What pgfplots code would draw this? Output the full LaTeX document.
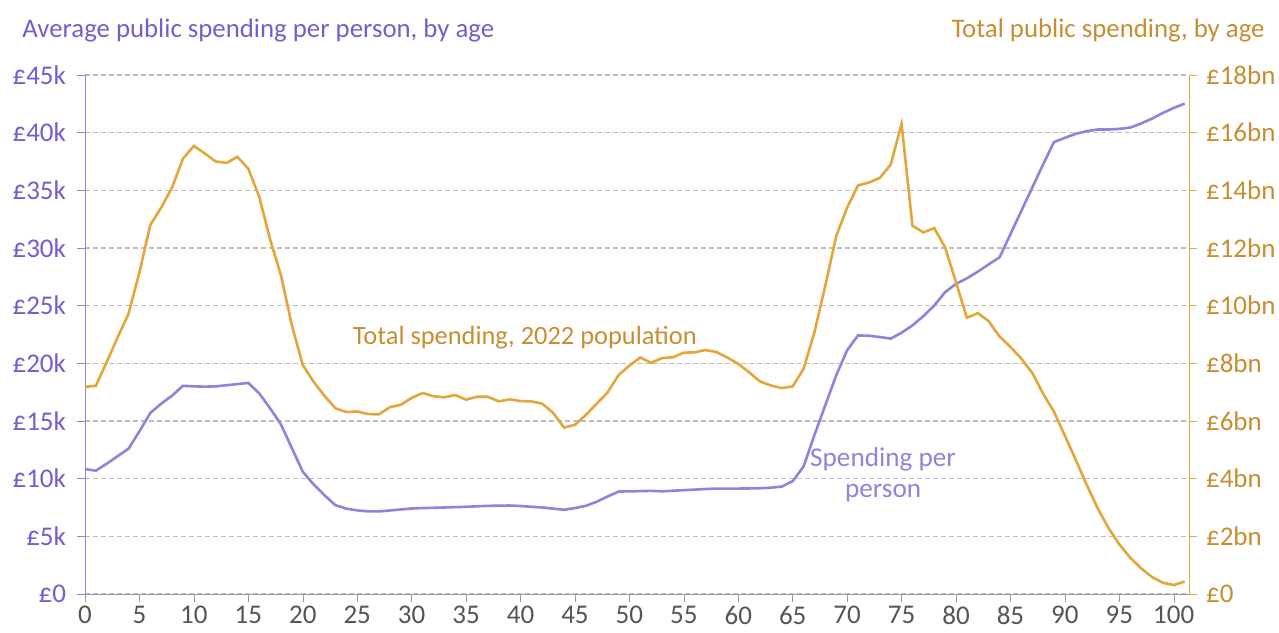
\documentclass[border=0pt]{standalone}
\usepackage{pgfplots}
\pgfplotsset{compat=1.18}
\usepackage{fontspec}
\setmainfont{Carlito}
\definecolor{purpText}{RGB}{118,92,208}
\definecolor{purpLine}{RGB}{150,128,220}
\definecolor{goldText}{RGB}{198,142,48}
\definecolor{goldLine}{RGB}{226,166,58}
\definecolor{gridgray}{RGB}{190,190,190}
\definecolor{tickgray}{RGB}{85,85,85}
\begin{document}
\begin{tikzpicture}[font=\fontsize{13.5}{16}\selectfont]
\pgfplotsset{common/.style={scale only axis, width=552pt, height=259.5pt,
  xmin=0, xmax=101.4, at={(0,0)}, anchor=south west,
  /pgf/number format/assume math mode=true,
  tick align=outside, clip=false, major tick length=4pt}}
\begin{axis}[common, name=ax,
  ymin=0, ymax=45,
  axis y line*=left, axis x line*=bottom,
  x axis line style={draw=gray!80, -},
  y axis line style={draw=purpLine, -},
  xtick={0,5,...,100},
  xtick style={draw=gray!80},
  ytick={0,5,...,45},
  yticklabels={£0,£5k,£10k,£15k,£20k,£25k,£30k,£35k,£40k,£45k},
  ytick style={draw=purpLine},
  yticklabel style={text=purpText, xshift=-2pt},
  xticklabel style={text=tickgray, inner sep=0.5pt, yshift=-1.5pt, font=\fontsize{13.5}{15}\selectfont},
  ymajorgrids, grid style={draw=gridgray, dash pattern=on 2.5pt off 1.5pt, line width=0.6pt},
]
\addplot[purpLine, line width=1.3pt] coordinates {
(0,10.83)(1,10.69)(2,11.3)(3,11.95)(4,12.6)(5,14.1)(6,15.7)(7,16.5)(8,17.2)(9,18.05)
(10,18.0)(11,17.98)(12,18.0)(13,18.1)(14,18.2)(15,18.3)(16,17.4)(17,16.1)(18,14.7)(19,12.65)
(20,10.6)(21,9.5)(22,8.55)(23,7.7)(24,7.4)(25,7.25)(26,7.16)(27,7.16)(28,7.24)(29,7.33)
(30,7.41)(31,7.45)(32,7.47)(33,7.5)(34,7.53)(35,7.56)(36,7.6)(37,7.64)(38,7.66)(39,7.67)
(40,7.63)(41,7.56)(42,7.5)(43,7.4)(44,7.3)(45,7.45)(46,7.64)(47,8.0)(48,8.45)(49,8.88)
(50,8.9)(51,8.92)(52,8.94)(53,8.9)(54,8.95)(55,9.0)(56,9.05)(57,9.1)(58,9.14)(59,9.14)
(60,9.14)(61,9.15)(62,9.17)(63,9.22)(64,9.31)(65,9.78)(66,11.05)(67,13.79)(68,16.38)(69,18.97)
(70,21.13)(71,22.42)(72,22.39)(73,22.28)(74,22.14)(75,22.65)(76,23.29)(77,24.09)(78,25.01)(79,26.17)
(80,26.89)(81,27.37)(82,27.95)(83,28.58)(84,29.19)(85,31.2)(86,33.22)(87,35.23)(88,37.25)(89,39.18)
(90,39.55)(91,39.9)(92,40.13)(93,40.27)(94,40.27)(95,40.33)(96,40.44)(97,40.79)(98,41.22)(99,41.71)
(100,42.14)(101,42.52)
};
\node[text=goldText, font=\fontsize{13.2}{15}\selectfont] at (axis cs:40.4,22.2) {Total spending, 2022 population};
\node[text=purpLine, align=center, font=\fontsize{13.6}{15.3}\selectfont] at (axis cs:73.3,10.35) {Spending per\\person};
\end{axis}
\begin{axis}[common,
  ymin=0, ymax=18,
  axis y line*=right, axis x line=none,
  y axis line style={draw=goldLine, -},
  ytick={0,2,...,18},
  yticklabels={£0,£2bn,£4bn,£6bn,£8bn,£10bn,£12bn,£14bn,£16bn,£18bn},
  ytick style={draw=goldLine},
  yticklabel style={text=goldText, xshift=1pt},
]
\addplot[goldLine, line width=1.3pt] coordinates {
(0,7.18)(1,7.22)(2,8.05)(3,8.9)(4,9.72)(5,11.16)(6,12.8)(7,13.4)(8,14.1)(9,15.1)
(10,15.54)(11,15.28)(12,15.0)(13,14.95)(14,15.16)(15,14.75)(16,13.78)(17,12.3)(18,11.05)(19,9.32)
(20,7.94)(21,7.36)(22,6.87)(23,6.44)(24,6.31)(25,6.33)(26,6.24)(27,6.23)(28,6.48)(29,6.56)
(30,6.80)(31,6.97)(32,6.86)(33,6.82)(34,6.90)(35,6.74)(36,6.84)(37,6.84)(38,6.68)(39,6.75)
(40,6.69)(41,6.68)(42,6.60)(43,6.28)(44,5.77)(45,5.87)(46,6.21)(47,6.60)(48,6.99)(49,7.59)
(50,7.92)(51,8.20)(52,8.02)(53,8.18)(54,8.21)(55,8.37)(56,8.38)(57,8.46)(58,8.39)(59,8.20)
(60,7.98)(61,7.69)(62,7.37)(63,7.23)(64,7.14)(65,7.2)(66,7.81)(67,9.08)(68,10.7)(69,12.42)
(70,13.4)(71,14.17)(72,14.27)(73,14.43)(74,14.89)(75,16.3)(76,12.77)(77,12.54)(78,12.69)(79,12.02)
(80,10.81)(81,9.58)(82,9.74)(83,9.46)(84,8.93)(85,8.57)(86,8.16)(87,7.67)(88,6.95)(89,6.32)
(90,5.49)(91,4.65)(92,3.79)(93,2.98)(94,2.29)(95,1.72)(96,1.26)(97,0.89)(98,0.59)(99,0.39)
(100,0.31)(101,0.43)
};
\end{axis}
\node[anchor=west, inner sep=0pt, text=purpText, font=\fontsize{13.4}{15}\selectfont] at ([xshift=-31.5pt, yshift=22pt]ax.north west) {Average public spending per person, by age};
\node[anchor=east, inner sep=0pt, text=goldText, font=\fontsize{13.4}{15}\selectfont] at ([xshift=38pt, yshift=22pt]ax.north east) {Total public spending, by age};
\pgfresetboundingbox
\path ([xshift=-42.5pt,yshift=-19.5pt]ax.south west) rectangle ([xshift=45pt,yshift=37.5pt]ax.north east);
\end{tikzpicture}
\end{document}
